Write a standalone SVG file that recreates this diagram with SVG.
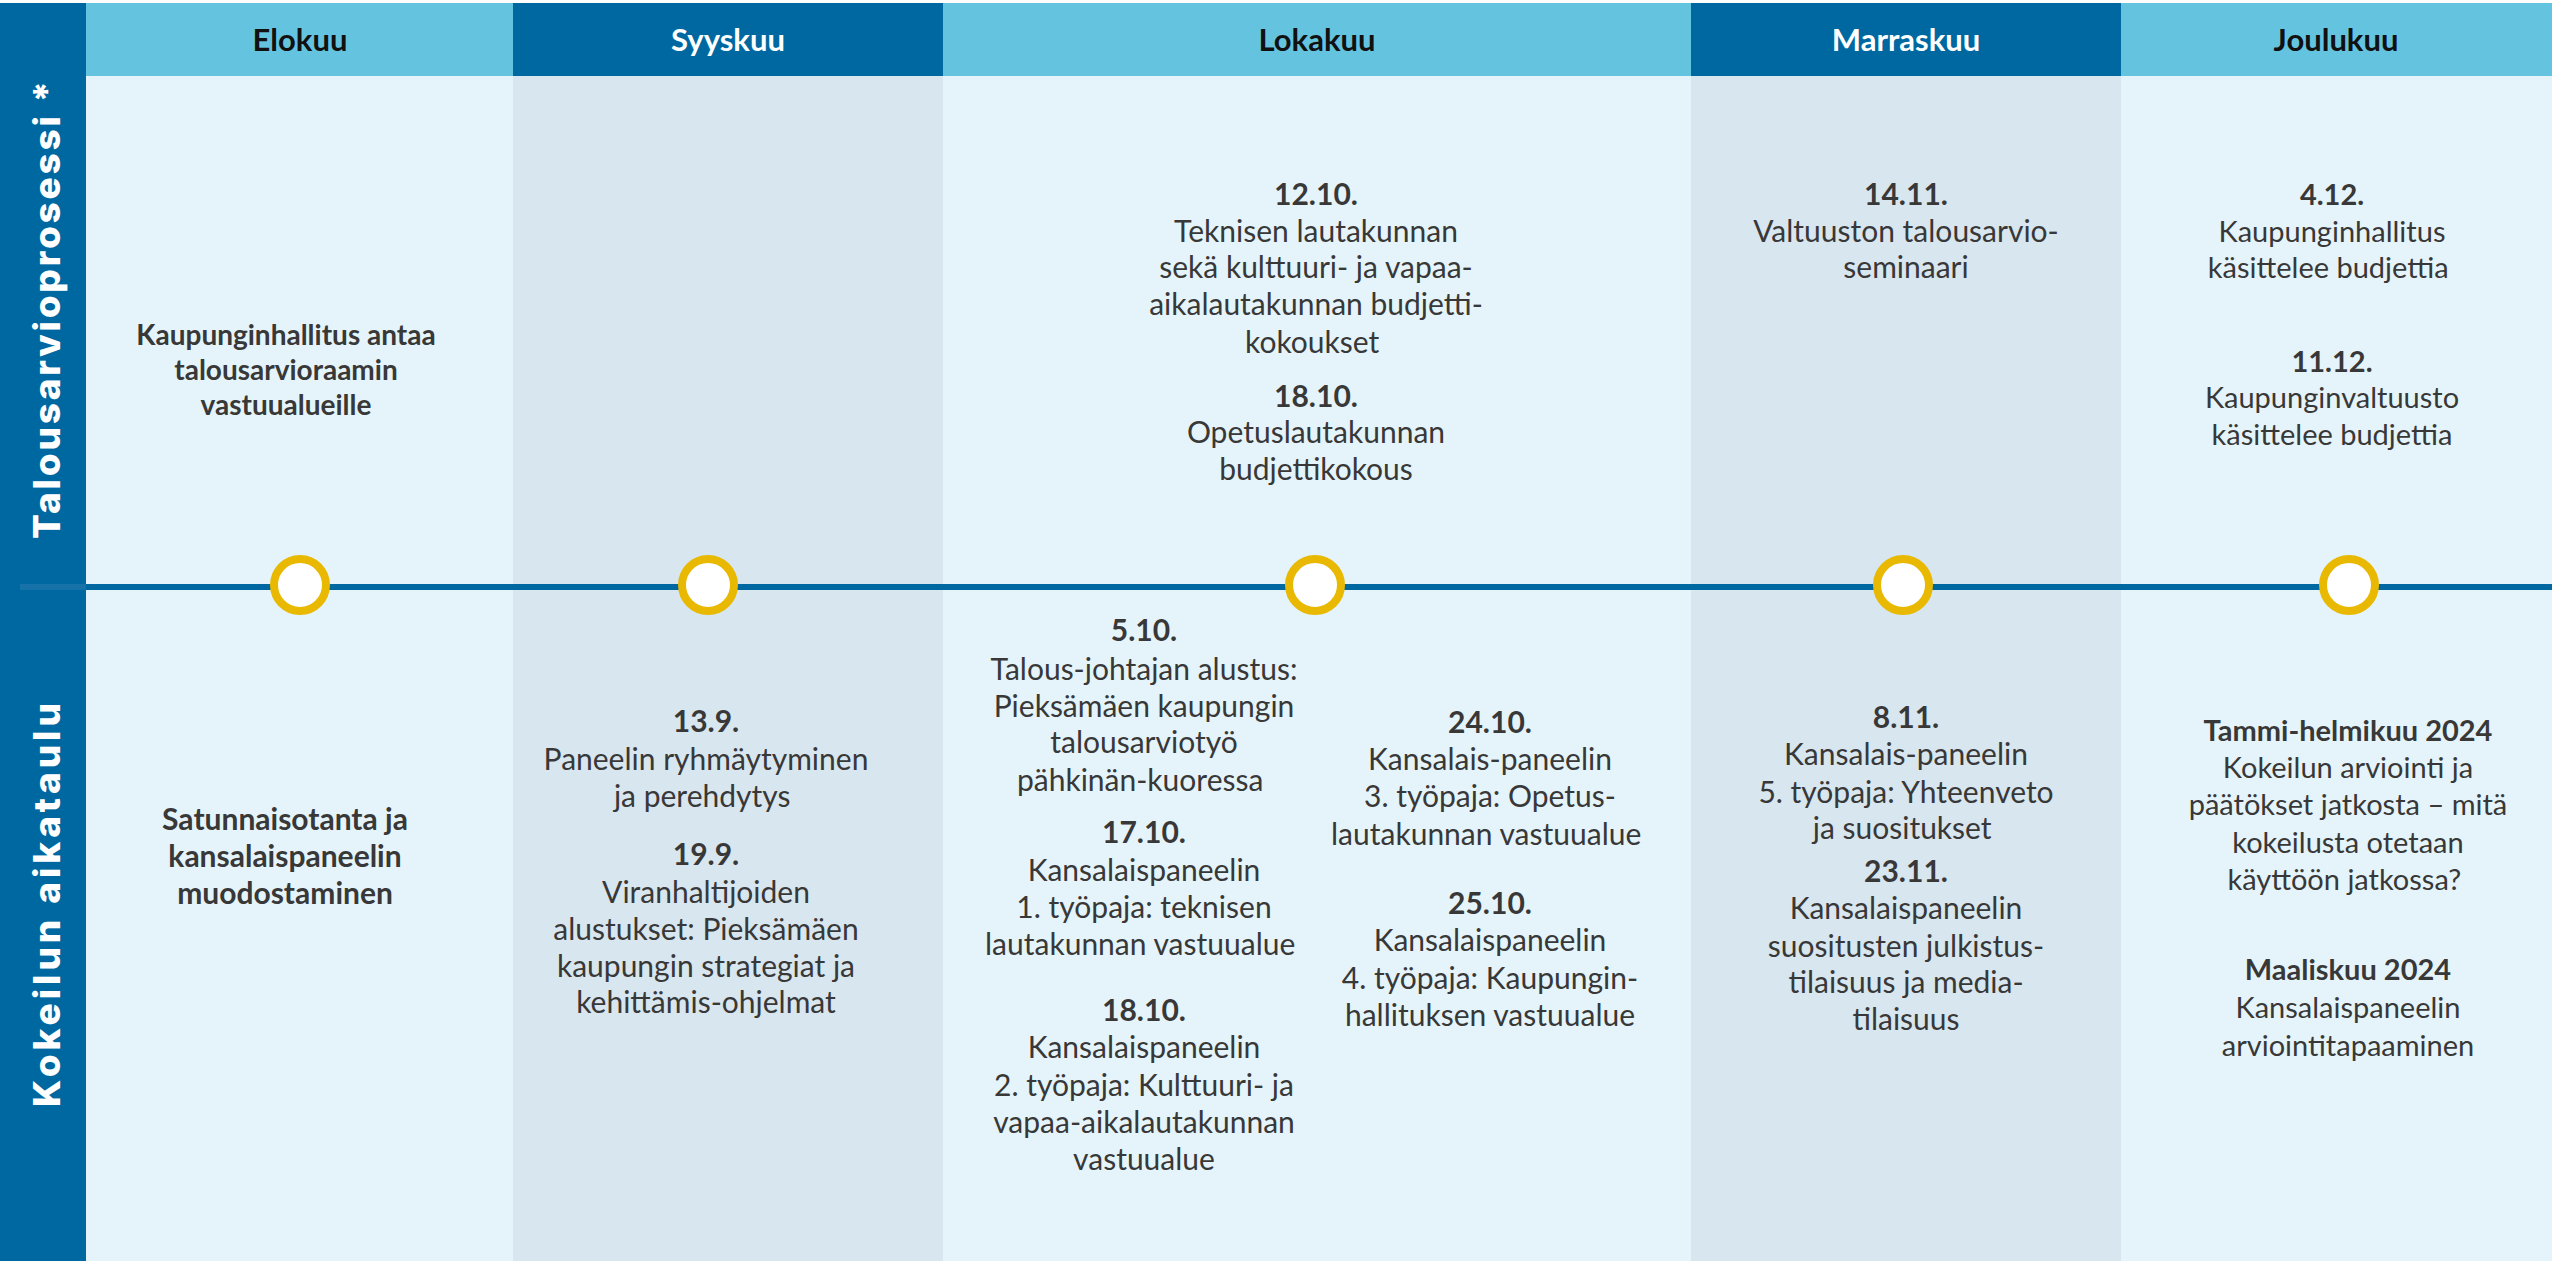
<svg xmlns="http://www.w3.org/2000/svg" width="2552" height="1261" viewBox="0 0 2552 1261">
<style>
.hl{fill:#64c4e0}.hd{fill:#0068a1}.bl{fill:#e5f4fa}.bg{fill:#d8e6ef}
.ht{font-family:Lato,"Liberation Sans",sans-serif;font-weight:700;font-size:31px;text-anchor:middle}
.htd{fill:#111}.htw{fill:#fff}
.t{font-family:Lato,"Liberation Sans",sans-serif;font-size:30px;fill:#383838;text-anchor:middle}
.s29{font-size:29px}
.b{font-weight:700}
.side{font-family:Inter,"DejaVu Sans",sans-serif;font-weight:800;font-size:37px;fill:#fff;text-anchor:middle}
.ms{fill:#fff;stroke:#e8b900;stroke-width:8}
</style>
<rect x="0" y="0" width="2552" height="1261" fill="#fff"/>
<g id="columns">
<rect class="bl" x="86" y="76" width="427" height="1185"/>
<rect class="bg" x="513" y="76" width="430" height="1185"/>
<rect class="bl" x="943" y="76" width="748" height="1185"/>
<rect class="bg" x="1691" y="76" width="430" height="1185"/>
<rect class="bl" x="2121" y="76" width="431" height="1185"/>
</g>
<g id="headers">
<g id="h-elokuu"><rect class="hl" x="86" y="3" width="427" height="73"/><text class="ht htd" x="300" y="51">Elokuu</text></g>
<g id="h-syyskuu"><rect class="hd" x="513" y="3" width="430" height="73"/><text class="ht htw" x="728" y="51">Syyskuu</text></g>
<g id="h-lokakuu"><rect class="hl" x="943" y="3" width="748" height="73"/><text class="ht htd" x="1317" y="51">Lokakuu</text></g>
<g id="h-marraskuu"><rect class="hd" x="1691" y="3" width="430" height="73"/><text class="ht htw" x="1906" y="51">Marraskuu</text></g>
<g id="h-joulukuu"><rect class="hl" x="2121" y="3" width="431" height="73"/><text class="ht htd" x="2336" y="51">Joulukuu</text></g>
</g>
<g id="side">
<rect class="hd" x="0" y="3" width="86" height="1258"/>
<text class="side" transform="translate(60,310) rotate(-90)" textLength="458" lengthAdjust="spacing">Talousarvioprosessi *</text>
<text class="side" transform="translate(60,905) rotate(-90)" textLength="404" lengthAdjust="spacing">Kokeilun aikataulu</text>
</g>
<g id="connectors">
<line x1="20" y1="587" x2="86" y2="587" stroke="#1672a8" stroke-width="6"/>
<line x1="86" y1="587" x2="2552" y2="587" stroke="#0068a1" stroke-width="6"/>
</g>
<g id="milestones">
<circle id="m1" class="ms" cx="300" cy="585" r="26"/>
<circle id="m2" class="ms" cx="708" cy="585" r="26"/>
<circle id="m3" class="ms" cx="1315" cy="585" r="26"/>
<circle id="m4" class="ms" cx="1903" cy="585" r="26"/>
<circle id="m5" class="ms" cx="2349" cy="585" r="26"/>
</g>
<g id="elokuu-top"><text class="t b" style="font-size:28px">
<tspan x="286" y="345">Kaupunginhallitus antaa</tspan><tspan x="286" y="380">talousarvioraamin</tspan><tspan x="286" y="415">vastuualueille</tspan></text></g>
<g id="elokuu-bottom"><text class="t b">
<tspan x="285" y="830">Satunnaisotanta ja</tspan><tspan x="285" y="867">kansalaispaneelin</tspan><tspan x="285" y="904">muodostaminen</tspan></text></g>
<g id="syyskuu-bottom"><text class="t">
<tspan class="b" x="706" y="732">13.9.</tspan><tspan x="706" y="770">Paneelin ryhmäytyminen</tspan><tspan x="706" y="807">ja perehdytys</tspan>
<tspan class="b" x="706" y="865">19.9.</tspan><tspan x="706" y="903">Viranhaltijoiden</tspan><tspan x="706" y="940">alustukset: Pieksämäen</tspan><tspan x="706" y="977">kaupungin strategiat ja</tspan><tspan x="706" y="1013">kehittämis-ohjelmat</tspan></text></g>
<g id="lokakuu-top"><text class="t">
<tspan class="b" x="1316" y="205">12.10.</tspan><tspan x="1316" y="242">Teknisen lautakunnan</tspan><tspan x="1316" y="278">sekä kulttuuri- ja vapaa-</tspan><tspan x="1316" y="315">aikalautakunnan budjetti-</tspan><tspan x="1316" y="353">kokoukset</tspan>
<tspan class="b" x="1316" y="407">18.10.</tspan><tspan x="1316" y="443">Opetuslautakunnan</tspan><tspan x="1316" y="480">budjettikokous</tspan></text></g>
<g id="lokakuu-bottom-left"><text class="t">
<tspan class="b" x="1144" y="641">5.10.</tspan><tspan x="1144" y="680">Talous-johtajan alustus:</tspan><tspan x="1144" y="717">Pieksämäen kaupungin</tspan><tspan x="1144" y="753">talousarviotyö</tspan><tspan x="1144" y="791">pähkinän-kuoressa</tspan>
<tspan class="b" x="1144" y="843">17.10.</tspan><tspan x="1144" y="881">Kansalaispaneelin</tspan><tspan x="1144" y="918">1. työpaja: teknisen</tspan><tspan x="1144" y="955">lautakunnan vastuualue</tspan>
<tspan class="b" x="1144" y="1021">18.10.</tspan><tspan x="1144" y="1058">Kansalaispaneelin</tspan><tspan x="1144" y="1096">2. työpaja: Kulttuuri- ja</tspan><tspan x="1144" y="1133">vapaa-aikalautakunnan</tspan><tspan x="1144" y="1170">vastuualue</tspan></text></g>
<g id="lokakuu-bottom-right"><text class="t">
<tspan class="b" x="1490" y="733">24.10.</tspan><tspan x="1490" y="770">Kansalais-paneelin</tspan><tspan x="1490" y="807">3. työpaja: Opetus-</tspan><tspan x="1490" y="845">lautakunnan vastuualue</tspan>
<tspan class="b" x="1490" y="914">25.10.</tspan><tspan x="1490" y="951">Kansalaispaneelin</tspan><tspan x="1490" y="989">4. työpaja: Kaupungin-</tspan><tspan x="1490" y="1026">hallituksen vastuualue</tspan></text></g>
<g id="marraskuu-top"><text class="t">
<tspan class="b" x="1906" y="205">14.11.</tspan><tspan x="1906" y="242">Valtuuston talousarvio-</tspan><tspan x="1906" y="278">seminaari</tspan></text></g>
<g id="marraskuu-bottom"><text class="t">
<tspan class="b" x="1906" y="728">8.11.</tspan><tspan x="1906" y="765">Kansalais-paneelin</tspan><tspan x="1906" y="803">5. työpaja: Yhteenveto</tspan><tspan x="1906" y="839">ja suositukset</tspan>
<tspan class="b" x="1906" y="882">23.11.</tspan><tspan x="1906" y="919">Kansalaispaneelin</tspan><tspan x="1906" y="957">suositusten julkistus-</tspan><tspan x="1906" y="993">tilaisuus ja media-</tspan><tspan x="1906" y="1030">tilaisuus</tspan></text></g>
<g id="joulukuu-top"><text class="t s29">
<tspan class="b" x="2332" y="205">4.12.</tspan><tspan x="2332" y="242">Kaupunginhallitus</tspan><tspan x="2332" y="278">käsittelee budjettia</tspan>
<tspan class="b" x="2332" y="372">11.12.</tspan><tspan x="2332" y="408">Kaupunginvaltuusto</tspan><tspan x="2332" y="445">käsittelee budjettia</tspan></text></g>
<g id="joulukuu-bottom"><text class="t s29">
<tspan class="b" x="2348" y="741">Tammi-helmikuu 2024</tspan><tspan x="2348" y="778">Kokeilun arviointi ja</tspan><tspan x="2348" y="815">päätökset jatkosta – mitä</tspan><tspan x="2348" y="853">kokeilusta otetaan</tspan><tspan x="2348" y="890">käyttöön jatkossa?</tspan>
<tspan class="b" x="2348" y="980">Maaliskuu 2024</tspan><tspan x="2348" y="1018">Kansalaispaneelin</tspan><tspan x="2348" y="1056">arviointitapaaminen</tspan></text></g>
</svg>
